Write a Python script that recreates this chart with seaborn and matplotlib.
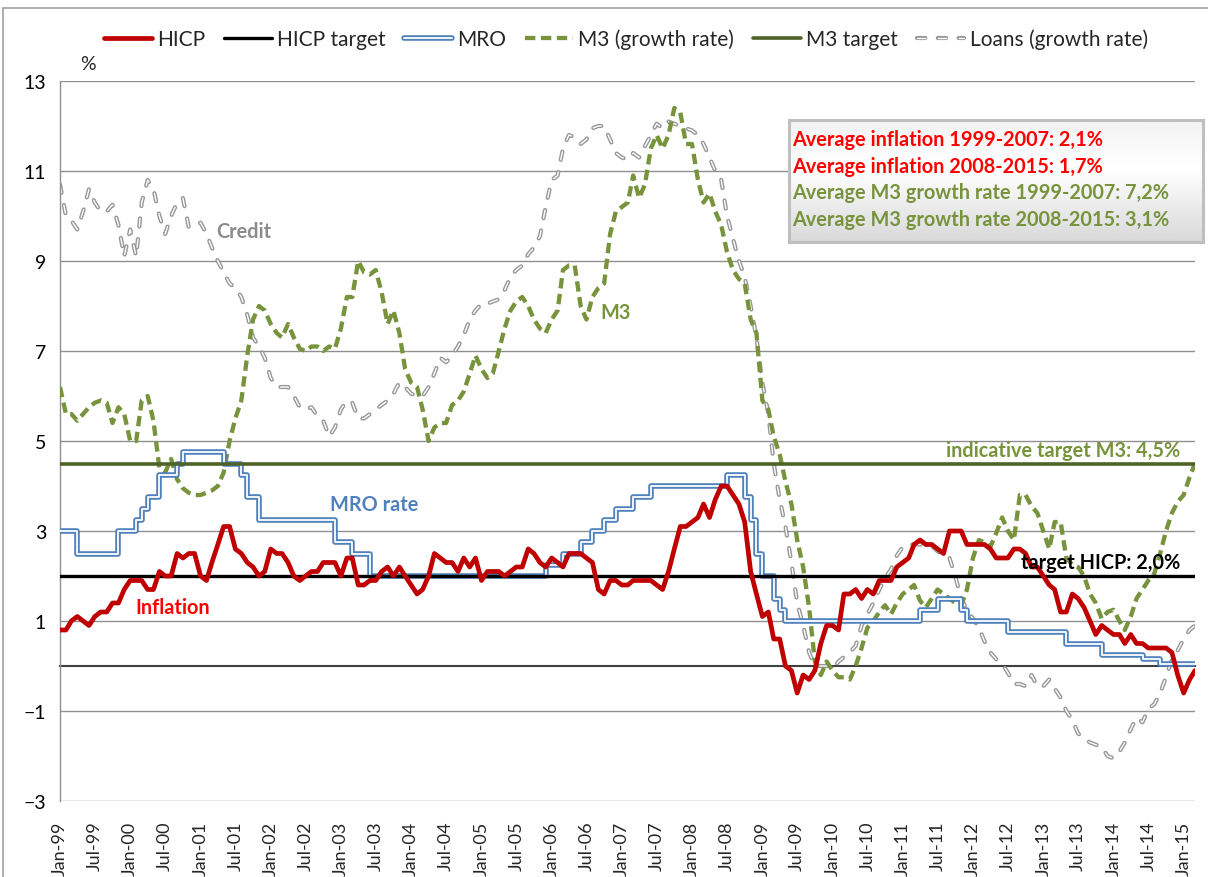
import numpy as np
import pandas as pd
import matplotlib
matplotlib.use("Agg")
import matplotlib.pyplot as plt
import matplotlib.dates as mdates
import matplotlib.patheffects as pe
from matplotlib.legend_handler import HandlerTuple
import seaborn as sns

# ---------------- data (monthly, Jan-1999 .. Mar-2015) ----------------
months = pd.date_range("1999-01-01", "2015-03-01", freq="MS")

hicp = [
    0.8, 0.8, 1.0, 1.1, 1.0, 0.9, 1.1, 1.2, 1.2, 1.4, 1.4, 1.7,   # 1999
    1.9, 1.9, 1.9, 1.7, 1.7, 2.1, 2.0, 2.0, 2.5, 2.4, 2.5, 2.5,   # 2000
    2.0, 1.9, 2.3, 2.7, 3.1, 3.1, 2.6, 2.5, 2.3, 2.2, 2.0, 2.1,   # 2001
    2.6, 2.5, 2.5, 2.3, 2.0, 1.9, 2.0, 2.1, 2.1, 2.3, 2.3, 2.3,   # 2002
    2.0, 2.4, 2.4, 1.8, 1.8, 1.9, 1.9, 2.1, 2.2, 2.0, 2.2, 2.0,   # 2003
    1.8, 1.6, 1.7, 2.0, 2.5, 2.4, 2.3, 2.3, 2.1, 2.4, 2.2, 2.4,   # 2004
    1.9, 2.1, 2.1, 2.1, 2.0, 2.1, 2.2, 2.2, 2.6, 2.5, 2.3, 2.2,   # 2005
    2.4, 2.3, 2.2, 2.5, 2.5, 2.5, 2.4, 2.3, 1.7, 1.6, 1.9, 1.9,   # 2006
    1.8, 1.8, 1.9, 1.9, 1.9, 1.9, 1.8, 1.7, 2.1, 2.6, 3.1, 3.1,   # 2007
    3.2, 3.3, 3.6, 3.3, 3.7, 4.0, 4.0, 3.8, 3.6, 3.2, 2.1, 1.6,   # 2008
    1.1, 1.2, 0.6, 0.6, 0.0, -0.1, -0.6, -0.2, -0.3, -0.1, 0.5, 0.9,  # 2009
    0.9, 0.8, 1.6, 1.6, 1.7, 1.5, 1.7, 1.6, 1.9, 1.9, 1.9, 2.2,   # 2010
    2.3, 2.4, 2.7, 2.8, 2.7, 2.7, 2.6, 2.5, 3.0, 3.0, 3.0, 2.7,   # 2011
    2.7, 2.7, 2.7, 2.6, 2.4, 2.4, 2.4, 2.6, 2.6, 2.5, 2.2, 2.2,   # 2012
    2.0, 1.8, 1.7, 1.2, 1.2, 1.6, 1.5, 1.3, 1.0, 0.7, 0.9, 0.8,   # 2013
    0.7, 0.7, 0.5, 0.7, 0.5, 0.5, 0.4, 0.4, 0.4, 0.4, 0.3, -0.2,  # 2014
    -0.6, -0.3, -0.1,                                             # 2015
]

mro = [
    3.0, 3.0, 3.0, 2.5, 2.5, 2.5, 2.5, 2.5, 2.5, 2.5, 3.0, 3.0,
    3.0, 3.25, 3.5, 3.75, 3.75, 4.25, 4.25, 4.25, 4.5, 4.75, 4.75, 4.75,
    4.75, 4.75, 4.75, 4.75, 4.5, 4.5, 4.5, 4.25, 3.75, 3.75, 3.25, 3.25,
    3.25, 3.25, 3.25, 3.25, 3.25, 3.25, 3.25, 3.25, 3.25, 3.25, 3.25, 2.75,
    2.75, 2.75, 2.5, 2.5, 2.5, 2.0, 2.0, 2.0, 2.0, 2.0, 2.0, 2.0,
    2.0, 2.0, 2.0, 2.0, 2.0, 2.0, 2.0, 2.0, 2.0, 2.0, 2.0, 2.0,
    2.0, 2.0, 2.0, 2.0, 2.0, 2.0, 2.0, 2.0, 2.0, 2.0, 2.0, 2.25,
    2.25, 2.25, 2.5, 2.5, 2.5, 2.75, 2.75, 3.0, 3.0, 3.25, 3.25, 3.5,
    3.5, 3.5, 3.75, 3.75, 3.75, 4.0, 4.0, 4.0, 4.0, 4.0, 4.0, 4.0,
    4.0, 4.0, 4.0, 4.0, 4.0, 4.0, 4.25, 4.25, 4.25, 3.75, 3.25, 2.5,
    2.0, 2.0, 1.5, 1.25, 1.0, 1.0, 1.0, 1.0, 1.0, 1.0, 1.0, 1.0,
    1.0, 1.0, 1.0, 1.0, 1.0, 1.0, 1.0, 1.0, 1.0, 1.0, 1.0, 1.0,
    1.0, 1.0, 1.0, 1.25, 1.25, 1.25, 1.5, 1.5, 1.5, 1.5, 1.25, 1.0,
    1.0, 1.0, 1.0, 1.0, 1.0, 1.0, 0.75, 0.75, 0.75, 0.75, 0.75, 0.75,
    0.75, 0.75, 0.75, 0.75, 0.5, 0.5, 0.5, 0.5, 0.5, 0.5, 0.25, 0.25,
    0.25, 0.25, 0.25, 0.25, 0.25, 0.15, 0.15, 0.15, 0.05, 0.05, 0.05, 0.05,
    0.05, 0.05, 0.05,
]

m3 = [
    6.2, 5.6, 5.6, 5.45, 5.6, 5.75, 5.85, 5.9, 5.85, 5.4, 5.75, 5.6,
    5.0, 5.0, 5.9, 6.0, 5.45, 4.4, 4.3, 4.6, 4.15, 3.95, 3.85, 3.8,
    3.8, 3.85, 3.9, 4.0, 4.3, 5.0, 5.5, 5.9, 6.9, 7.7, 8.0, 7.9,
    7.6, 7.4, 7.3, 7.6, 7.3, 7.05, 7.0, 7.1, 7.1, 7.0, 7.1, 7.05,
    7.5, 8.2, 8.2, 9.0, 8.75, 8.7, 8.8, 8.3, 7.6, 7.9, 7.4, 6.6,
    6.3, 6.2, 5.7, 5.0, 5.3, 5.4, 5.4, 5.8, 5.9, 6.1, 6.5, 6.9,
    6.6, 6.4, 6.5, 7.0, 7.5, 7.9, 8.1, 8.2, 8.0, 7.7, 7.5, 7.4,
    7.7, 7.9, 8.8, 8.9, 8.9, 8.0, 7.7, 8.2, 8.4, 8.5, 9.6, 10.1,
    10.2, 10.3, 10.9, 10.4, 10.7, 11.5, 11.8, 11.5, 11.8, 12.4, 12.3, 11.6,
    11.6, 10.8, 10.3, 10.5, 10.1, 9.8, 9.2, 8.8, 8.6, 8.5, 7.7, 7.4,
    5.9, 5.7, 5.1, 4.7, 4.1, 3.6, 2.8, 2.2, 1.3, 0.1, -0.2, 0.1,
    -0.1, -0.25, -0.25, -0.3, 0.0, 0.4, 0.85, 1.0, 1.2, 1.35, 1.15, 1.4,
    1.6, 1.7, 1.8, 1.45, 1.3, 1.5, 1.7, 1.6, 1.5, 1.4, 1.35, 1.7,
    2.4, 2.8, 2.75, 2.65, 2.95, 3.3, 3.0, 2.8, 3.8, 3.8, 3.55, 3.4,
    3.0, 2.6, 3.2, 3.2, 2.4, 2.25, 2.2, 2.0, 1.6, 1.4, 1.05, 1.2,
    1.25, 1.0, 0.8, 1.1, 1.5, 1.7, 1.9, 2.05, 2.5, 3.0, 3.4, 3.65,
    3.8, 4.2, 4.5,
]

loans = [
    10.7, 10.0, 9.9, 9.7, 10.1, 10.6, 10.3, 10.1, 10.1, 10.25, 9.8, 9.1,
    9.7, 9.1, 10.3, 10.8, 10.6, 10.0, 9.6, 10.0, 10.3, 10.4, 9.75, 9.8,
    9.85, 9.6, 9.3, 9.0, 8.75, 8.5, 8.4, 8.2, 7.8, 7.3, 7.1, 6.85,
    6.4, 6.2, 6.2, 6.2, 6.0, 5.75, 5.7, 5.75, 5.55, 5.45, 5.1, 5.3,
    5.7, 5.9, 5.85, 5.5, 5.5, 5.6, 5.7, 5.8, 5.9, 6.05, 6.3, 6.2,
    6.05, 6.0, 6.0, 6.2, 6.5, 6.85, 6.75, 6.9, 7.1, 7.35, 7.7, 7.9,
    8.05, 8.05, 8.1, 8.15, 8.35, 8.65, 8.8, 8.9, 9.15, 9.3, 9.55, 10.2,
    10.8, 10.9, 11.5, 11.8, 11.75, 11.6, 11.7, 11.95, 12.0, 12.0, 11.7, 11.4,
    11.3, 11.25, 11.4, 11.3, 11.55, 11.8, 12.05, 11.95, 12.1, 12.05, 12.0, 11.95,
    11.9, 11.8, 11.6, 11.3, 11.0, 10.8, 10.0, 9.5, 9.0, 8.65, 8.0, 7.3,
    6.3, 5.6, 4.5, 3.7, 3.1, 2.3, 1.4, 0.9, 0.3, 0.0, 0.0, 0.0,
    -0.05, 0.1, 0.2, 0.3, 0.45, 0.9, 1.15, 1.4, 1.7, 1.95, 2.15, 2.45,
    2.65, 2.7, 2.7, 2.7, 2.7, 2.67, 2.55, 2.45, 2.4, 2.0, 1.5, 1.25,
    1.05, 0.85, 0.55, 0.3, 0.15, 0.05, -0.15, -0.4, -0.4, -0.45, -0.2, -0.45,
    -0.45, -0.3, -0.5, -0.7, -1.0, -1.2, -1.5, -1.6, -1.7, -1.75, -1.8, -2.0,
    -2.05, -1.9, -1.7, -1.4, -1.15, -1.25, -0.95, -0.85, -0.6, -0.25, 0.15, 0.35,
    0.6, 0.8, 0.9,
]

hicp_target = 2.0
m3_target = 4.5
y_ticks = [-3, -1, 1, 3, 5, 7, 9, 11, 13]

legend_labels = ["HICP", "HICP target", "MRO", "M3 (growth rate)", "M3 target",
                 "Loans (growth rate)"]
box_lines = ["Average inflation 1999-2007: 2,1%",
             "Average inflation 2008-2015: 1,7%",
             "Average M3 growth rate 1999-2007: 7,2%",
             "Average M3 growth rate 2008-2015: 3,1%"]

df = pd.DataFrame({"date": months, "HICP": hicp, "MRO": mro, "M3": m3, "Loans": loans})

# ---------------- styling ----------------
sns.set_style("white")
plt.rcParams["font.family"] = ["Lato", "DejaVu Sans"]

RED = "#C00000"
BLUE = "#4F81BD"
OLIVE = "#77933C"
DARKOLIVE = "#4F6228"
GREY = "#8C8C8C"
GRID = "#8F8F8F"

W, H = 1208, 878
fig = plt.figure(figsize=(W / 100, H / 100), dpi=100)
ax = fig.add_axes([60 / W, 76 / H, 1135 / W, 720 / H])

# grid
ax.set_ylim(-3, 13)
ax.set_yticks(y_ticks)
ax.yaxis.grid(True, color=GRID, lw=1.0, zorder=0)
ax.xaxis.grid(False)
ax.set_axisbelow(True)

common = dict(ax=ax, estimator=None, errorbar=None, legend=False)

# Loans: outlined dashes = grey dashed line + thinner white dashed line on top
sns.lineplot(data=df, x="date", y="Loans", color="#969696", linewidth=3.0,
             linestyle=(0, (2.0, 3.0)), dash_capstyle="round", zorder=2, **common)
h_loans_o = ax.lines[-1]
sns.lineplot(data=df, x="date", y="Loans", color="white", linewidth=1.0,
             linestyle=(0, (6.0, 9.0)), dash_capstyle="round", zorder=2.1, **common)
h_loans_i = ax.lines[-1]

# M3 growth
sns.lineplot(data=df, x="date", y="M3", color=OLIVE, linewidth=3.1,
             linestyle=(0, (2.4, 1.3)), zorder=3, **common)
h_m3 = ax.lines[-1]

# MRO (double blue step line)
sns.lineplot(data=df, x="date", y="MRO", color="white", linewidth=1.3,
             drawstyle="steps-post", zorder=4,
             path_effects=[pe.Stroke(linewidth=4.0, foreground=BLUE), pe.Normal()],
             **common)
h_mro = ax.lines[-1]

# targets
h_m3t = ax.axhline(m3_target, color=DARKOLIVE, lw=2.6, zorder=5)
h_ht = ax.axhline(hicp_target, color="black", lw=2.4, zorder=5)

# HICP
sns.lineplot(data=df, x="date", y="HICP", color=RED, linewidth=3.4, zorder=6,
             **common)
h_hicp = ax.lines[-1]

# axes limits / spines
ax.set_xlim(months[0], months[-1])
ax.set_xlabel("")
ax.set_ylabel("")
for s in ["top", "right"]:
    ax.spines[s].set_visible(False)
ax.spines["left"].set_color(GRID)
ax.spines["left"].set_linewidth(1.0)
ax.spines["bottom"].set_position(("data", 0))
ax.spines["bottom"].set_color("#404040")
ax.spines["bottom"].set_linewidth(1.5)
ax.spines["bottom"].set_zorder(1)

ax.xaxis.set_major_locator(mdates.MonthLocator(bymonth=[1, 7]))
ax.tick_params(axis="x", direction="out", length=7, width=1.3, color="#303030",
               labelbottom=False)
ax.tick_params(axis="y", direction="out", length=6, width=1, color=GRID,
               labelsize=14, pad=4, labelcolor="black")

sec = ax.secondary_xaxis(0)
sec.xaxis.set_major_locator(mdates.MonthLocator(bymonth=[1, 7]))
sec.xaxis.set_major_formatter(mdates.DateFormatter("%b-%y"))
sec.tick_params(axis="x", length=0, labelrotation=90, labelsize=13, pad=14)
sec.spines["bottom"].set_visible(False)

# "%" unit
fig.text(88 / W, 1 - 64 / H, "%", fontsize=14, ha="center", va="center")

# in-chart labels (axes fraction positions)
lab = dict(transform=ax.transAxes, fontsize=14.3, fontweight="bold", va="center")
ax.text(0.1374, 0.7917, "Credit", color=GREY, ha="left", **lab)
ax.text(0.4758, 0.679, "M3", color=OLIVE, ha="left", **lab)
ax.text(0.2379, 0.4125, "MRO rate", color=BLUE, ha="left", **lab)
ax.text(0.0661, 0.2694, "Inflation", color="#FF0000", ha="left", **lab)
ax.text(0.9868, 0.4875, "indicative target M3: 4,5%", color=OLIVE, ha="right",
        zorder=10, **lab)
ax.text(0.9868, 0.3319, "target HICP: 2,0%", color="black", ha="right",
        zorder=10, **lab)

# text box with gradient
bax = fig.add_axes([789 / W, 1 - 243 / H, 414 / W, 122 / H])
grad = np.concatenate([np.linspace(0.95, 1.0, 40), np.linspace(1.0, 0.85, 60)])
bax.imshow(np.tile(grad[:, None], (1, 10)), cmap="gray", vmin=0, vmax=1,
           aspect="auto", extent=[0, 1, 0, 1])
bax.set_xticks([])
bax.set_yticks([])
for s in bax.spines.values():
    s.set_color("#BFBFBF")
    s.set_linewidth(2.2)
box_colors = ["#FF0000", "#FF0000", OLIVE, OLIVE]
for i, (t, c) in enumerate(zip(box_lines, box_colors)):
    bax.text(0.008, 0.845 - i * 0.218, t, transform=bax.transAxes, color=c,
             fontsize=14.3, fontweight="bold", va="center", ha="left")

# legend
handles = [h_hicp, h_ht, h_mro, h_m3, h_m3t, (h_loans_o, h_loans_i)]
fig.legend(handles, legend_labels, loc="center", bbox_to_anchor=(0.518, 1 - 40 / H),
           ncol=6, frameon=False, fontsize=15, handlelength=2.3,
           columnspacing=0.9, handletextpad=0.25,
           handler_map={tuple: HandlerTuple(ndivide=1, pad=0)})

# chart-area border (top and left)
fig.add_artist(plt.Line2D([3 / W, 3 / W], [0, 1 - 9 / H], color="#A0A0A0", lw=1.2))
fig.add_artist(plt.Line2D([3 / W, 1], [1 - 9 / H, 1 - 9 / H], color="#A0A0A0", lw=1.2))

fig.savefig("out.png", dpi=100)
